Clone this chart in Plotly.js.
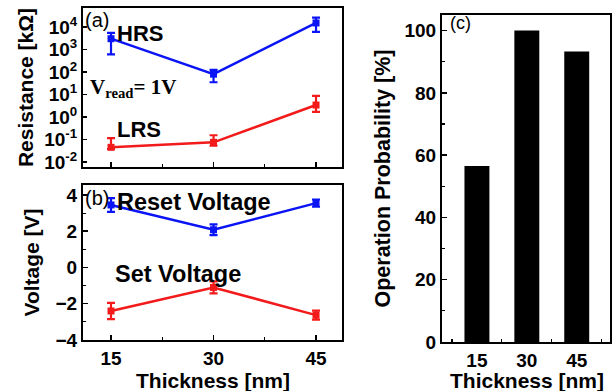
<!DOCTYPE html>
<html>
<head>
<meta charset="utf-8">
<script src="https://cdn.plot.ly/plotly-3.0.1.min.js"></script>
<style>html,body{margin:0;padding:0;background:#fff;}#chart{width:616px;height:391px;}</style>
</head>
<body>
<div id="chart"></div>
<script>
// ---- data ----
const thickness = [15, 30, 45];
const hrs = [3000, 80, 15000];
const hrsErrPlus = [2400, 45, 11000];
const hrsErrMinus = [2400, 45, 9000];
const lrs = [0.045, 0.075, 3.4];
const lrsErrPlus = [0.07, 0.08, 5.2];
const lrsErrMinus = [0.007, 0.022, 1.7];
const resetV = [3.45, 2.08, 3.55];
const resetErr = [0.38, 0.3, 0.2];
const setV = [-2.4, -1.1, -2.63];
const setErr = [0.45, 0.33, 0.25];
const probability = [56.5, 100, 93.3];
const logTickVals = [0.01, 0.1, 1, 10, 100, 1000, 10000];
const logTickText = ['10<sup>-2</sup>', '10<sup>-1</sup>', '10<sup>0</sup>', '10<sup>1</sup>', '10<sup>2</sup>', '10<sup>3</sup>', '10<sup>4</sup>'];

const W = 616, H = 391;
const px = v => v / W;
const py = v => 1 - v / H;
const BLUE = '#0a14f5', RED = '#f21a1a';
const SANS = 'Liberation Sans, Arial, sans-serif';
const tickFont = {family: SANS, size: 19, color: '#000', weight: 'bold'};
const titleFont = {family: SANS, size: 21, color: '#000', weight: 'bold'};

function lineTrace(y, ep, em, color, xa, ya) {
  return {
    x: thickness, y: y, xaxis: xa, yaxis: ya, type: 'scatter', mode: 'lines+markers',
    line: {color: color, width: 2.5},
    marker: {symbol: 'square', size: 7, color: color},
    error_y: {type: 'data', symmetric: false, array: ep, arrayminus: em, color: color, thickness: 2.2, width: 4},
    showlegend: false, hoverinfo: 'skip'
  };
}

const data = [
  lineTrace(hrs, hrsErrPlus, hrsErrMinus, BLUE, 'x', 'y'),
  lineTrace(lrs, lrsErrPlus, lrsErrMinus, RED, 'x', 'y'),
  lineTrace(resetV, resetErr, resetErr, BLUE, 'x2', 'y2'),
  lineTrace(setV, setErr, setErr, RED, 'x2', 'y2'),
  {x: thickness, y: probability, xaxis: 'x3', yaxis: 'y3', type: 'bar', width: 7.5,
   marker: {color: '#000', line: {width: 0}}, showlegend: false, hoverinfo: 'skip'}
];

const axBase = {showline: true, mirror: true, linecolor: '#000', linewidth: 2, ticks: 'inside',
  ticklen: 5, tickwidth: 1.5, tickcolor: '#000', showgrid: false, zeroline: false, tickfont: tickFont};
const xMinor = {ticks: 'inside', tick0: 0, dtick: 7.5, ticklen: 3, tickwidth: 1.2, tickcolor: '#000', showgrid: false};

const layout = {
  width: W, height: H, margin: {l: 0, r: 0, t: 0, b: 0},
  paper_bgcolor: '#fff', plot_bgcolor: '#fff', showlegend: false,
  xaxis: Object.assign({}, axBase, {domain: [px(83), px(342)], anchor: 'y', range: [10.9, 48.8],
    tickmode: 'array', tickvals: thickness, showticklabels: false, minor: xMinor}),
  yaxis: Object.assign({}, axBase, {domain: [py(167), py(8)], anchor: 'x', type: 'log', range: [-2.22, 4.84],
    tickmode: 'array', tickvals: logTickVals, ticktext: logTickText, ticklen: 4,
    title: {text: 'Resistance [kΩ]', font: titleFont, standoff: 5}}),
  xaxis2: Object.assign({}, axBase, {domain: [px(83), px(342)], anchor: 'y2', range: [10.9, 48.8],
    tickmode: 'array', tickvals: thickness, minor: xMinor}),
  yaxis2: Object.assign({}, axBase, {domain: [py(340), py(185)], anchor: 'x2', range: [-4, 4.55],
    tickmode: 'array', tickvals: [-4, -2, 0, 2, 4],
    minor: {ticks: 'inside', tick0: 0, dtick: 1, ticklen: 3, tickwidth: 1.2, tickcolor: '#000', showgrid: false},
    title: {text: 'Voltage [V]', font: titleFont, standoff: 10}}),
  xaxis3: Object.assign({}, axBase, {domain: [px(442), px(610)], anchor: 'y3', range: [4.5, 55],
    tickmode: 'array', tickvals: thickness, minor: xMinor}),
  yaxis3: Object.assign({}, axBase, {domain: [py(342), py(15)], anchor: 'x3', range: [0, 105],
    tickmode: 'array', tickvals: [0, 20, 40, 60, 80, 100],
    minor: {ticks: 'inside', tick0: 0, dtick: 10, ticklen: 3, tickwidth: 1.2, tickcolor: '#000', showgrid: false},
    title: {text: 'Operation Probability [%]', font: Object.assign({}, titleFont, {size: 21.5}), standoff: 8}}),
  annotations: [
    {text: '<b>Thickness [nm]</b>', x: px(212.5), y: py(380), xref: 'paper', yref: 'paper', xanchor: 'center', yanchor: 'middle', showarrow: false,
     font: {family: SANS, size: 21, color: '#000'}},
    {text: '<b>Thickness [nm]</b>', x: px(527), y: py(380), xref: 'paper', yref: 'paper', xanchor: 'center', yanchor: 'middle', showarrow: false,
     font: {family: SANS, size: 21, color: '#000'}},
    {text: '(a)', x: px(83), y: py(20), xref: 'paper', yref: 'paper', xanchor: 'left', yanchor: 'middle', showarrow: false,
     font: {family: SANS, size: 20, color: '#000'}},
    {text: '<b>HRS</b>', x: px(115), y: py(34), xref: 'paper', yref: 'paper', xanchor: 'left', yanchor: 'middle', showarrow: false,
     font: {family: SANS, size: 22, color: '#000'}},
    {text: '<b>LRS</b>', x: px(115), y: py(129), xref: 'paper', yref: 'paper', xanchor: 'left', yanchor: 'middle', showarrow: false,
     font: {family: SANS, size: 22, color: '#000'}},
    {text: '<b>V<sub>read</sub>= 1V</b>', x: px(88), y: py(88), xref: 'paper', yref: 'paper', xanchor: 'left', yanchor: 'middle', showarrow: false,
     font: {family: 'Liberation Serif, Times New Roman, serif', size: 21, color: '#000'}},
    {text: '(b)', x: px(83), y: py(198), xref: 'paper', yref: 'paper', xanchor: 'left', yanchor: 'middle', showarrow: false,
     font: {family: SANS, size: 20, color: '#000'}},
    {text: '<b>Reset Voltage</b>', x: px(115), y: py(202), xref: 'paper', yref: 'paper', xanchor: 'left', yanchor: 'middle', showarrow: false,
     font: {family: SANS, size: 23.5, color: '#000'}},
    {text: '<b>Set Voltage</b>', x: px(113), y: py(274), xref: 'paper', yref: 'paper', xanchor: 'left', yanchor: 'middle', showarrow: false,
     font: {family: SANS, size: 23.5, color: '#000'}},
    {text: '(c)', x: px(448), y: py(23), xref: 'paper', yref: 'paper', xanchor: 'left', yanchor: 'middle', showarrow: false,
     font: {family: SANS, size: 18, color: '#000'}}
  ]
};

Plotly.newPlot('chart', data, layout, {staticPlot: true, displayModeBar: false});
</script>
</body>
</html>
